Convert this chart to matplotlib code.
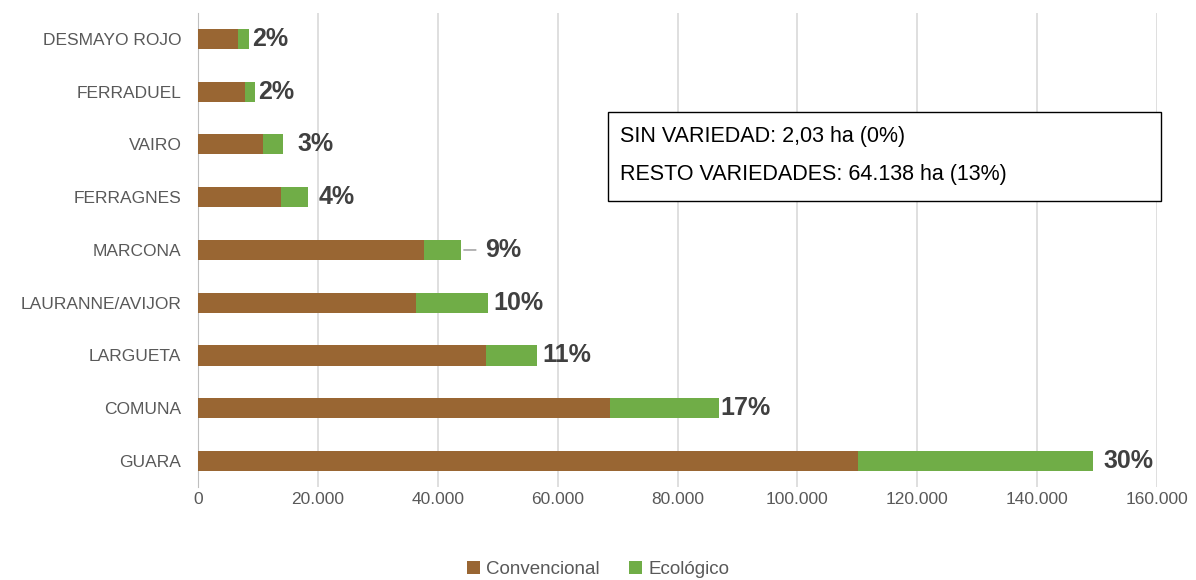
import matplotlib
matplotlib.use("Agg")
import matplotlib.pyplot as plt
from matplotlib.patches import Rectangle
from matplotlib.ticker import FuncFormatter

# datos (ha)
variedades = ["GUARA", "COMUNA", "LARGUETA", "LAURANNE/AVIJOR", "MARCONA",
              "FERRAGNES", "VAIRO", "FERRADUEL", "DESMAYO ROJO"]
convencional = [110100, 68800, 48000, 36400, 37700, 13900, 10800, 7800, 6700]
ecologico = [39200, 18200, 8500, 12000, 6200, 4500, 3300, 1700, 1850]
porcentajes = ["30%", "17%", "11%", "10%", "9%", "4%", "3%", "2%", "2%"]

# separacion de cada etiqueta respecto al final de la barra (en px)
separacion = [11, 1, 6, 5, 24, 10, 15, 3, 3]

lineas_caja = ["SIN VARIEDAD: 2,03 ha (0%)", "RESTO VARIEDADES: 64.138 ha (13%)"]

color_conv = "#996633"
color_eco = "#70AD47"
gris_texto = "#595959"

plt.rcParams["font.family"] = ["Liberation Sans Narrow", "Liberation Sans", "DejaVu Sans"]

fig = plt.figure(figsize=(11.96, 5.8), dpi=100)
ax = fig.add_axes([0.1656, 0.1597, 0.8018, 0.8186])

pos = list(range(len(variedades)))
ax.barh(pos, convencional, height=0.38, color=color_conv, label="Convencional", zorder=3)
ax.barh(pos, ecologico, left=convencional, height=0.38, color=color_eco, label="Ecológico", zorder=3)

# etiquetas de porcentaje
for i in range(len(variedades)):
    total = convencional[i] + ecologico[i]
    ax.annotate(porcentajes[i], xy=(total, pos[i]), xytext=(separacion[i] * 0.72, 0),
                textcoords="offset points", va="center", ha="left",
                fontsize=18, fontweight="bold", color="#404040")
    if variedades[i] == "MARCONA":
        ax.annotate("", xy=(total, pos[i]), xytext=(total + 2900, pos[i]),
                    arrowprops=dict(arrowstyle="-", color="#a6a6a6", lw=1.2))

ax.set_xlim(0, 160000)
ax.set_ylim(-0.5, len(variedades) - 0.5)
ax.set_xticks(range(0, 160001, 20000))
ax.xaxis.set_major_formatter(FuncFormatter(lambda v, p: f"{int(v):,}".replace(",", ".")))
ax.set_yticks(pos)
ax.set_yticklabels(variedades)

ax.grid(axis="x", color="#d9d9d9", linewidth=1.2, zorder=0)
for lado in ["top", "right", "bottom"]:
    ax.spines[lado].set_visible(False)
ax.spines["left"].set_color("#bfbfbf")
ax.tick_params(axis="both", length=0, labelsize=12.5, colors=gris_texto)
ax.tick_params(axis="x", pad=3)
ax.tick_params(axis="y", pad=12)

# caja de texto
caja = Rectangle((0.4275, 0.6032), 0.5765, 0.1875, transform=ax.transAxes,
                 facecolor="white", edgecolor="black", linewidth=1, zorder=5, clip_on=False)
ax.add_patch(caja)
ax.text(0.4405, 0.740, lineas_caja[0], transform=ax.transAxes, fontsize=15.5,
        color="black", va="center", ha="left", zorder=6)
ax.text(0.4405, 0.658, lineas_caja[1], transform=ax.transAxes, fontsize=15.5,
        color="black", va="center", ha="left", zorder=6)

fig.legend(loc="lower center", bbox_to_anchor=(0.5, -0.025), ncol=2, frameon=False,
           fontsize=13.5, labelcolor=gris_texto, handlelength=0.7, handleheight=0.7,
           handletextpad=0.3, columnspacing=1.6)

plt.savefig("out.png", dpi=100)
